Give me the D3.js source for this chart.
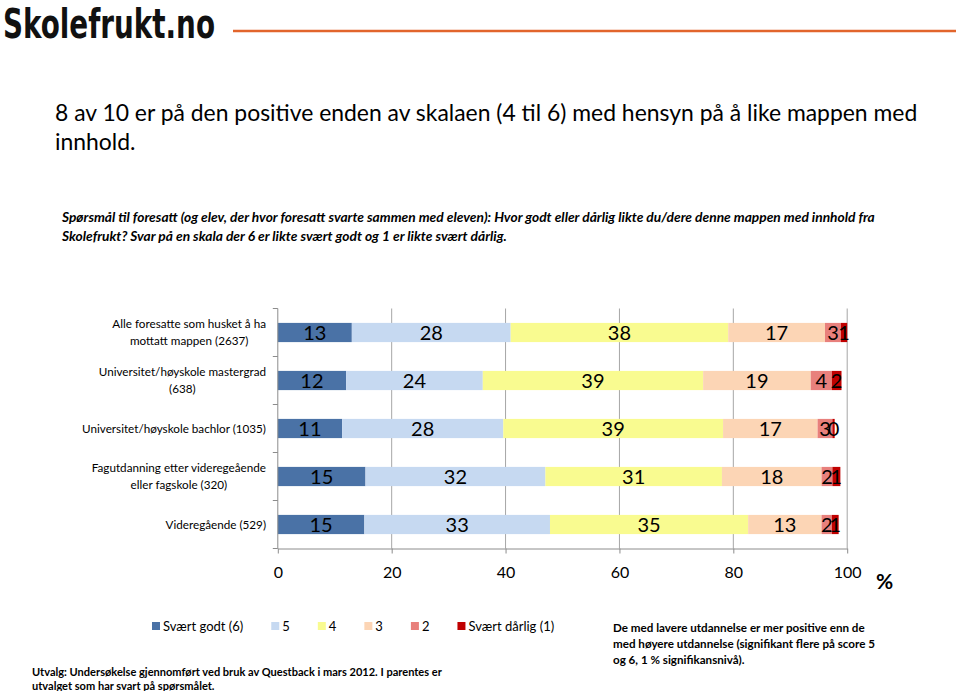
<!DOCTYPE html>
<html><head><meta charset="utf-8">
<script src="https://cdn.jsdelivr.net/npm/d3@7"></script>
<style>body{margin:0;background:#fff;} svg{display:block;}</style>
</head><body>
<script>
// ---- data ----
const categories = [
  ["Alle foresatte som husket å ha", "mottatt mappen (2637)"],
  ["Universitet/høyskole mastergrad", "(638)"],
  ["Universitet/høyskole bachlor (1035)"],
  ["Fagutdanning etter videregeående", "eller fagskole (320)"],
  ["Videregående (529)"]
];
const seriesNames = ["Svært godt (6)", "5", "4", "3", "2", "Svært dårlig (1)"];
const s6 = [13.0, 12.0, 11.3, 15.4, 15.2];
const s5 = [27.9, 24.0, 28.3, 31.6, 32.6];
const s4 = [38.2, 38.7, 38.6, 31.0, 34.8];
const s3 = [17.0, 18.9, 16.6, 17.5, 12.9];
const s2 = [2.8, 3.7, 2.6, 1.9, 1.8];
const s1 = [1.1, 1.7, 0.4, 1.4, 1.2];
const xTicks = [0, 20, 40, 60, 80, 100];
const colors = ["#4a72a6", "#c6d9f1", "#f9fb90", "#fcd5b5", "#e8807c", "#c00000"];

const W = 959, H = 691;
const svg = d3.select("body").append("svg").attr("width", W).attr("height", H);

function fit(t, target) {
  const fs = parseFloat(t.attr("font-size"));
  const w = t.node().getComputedTextLength();
  t.attr("font-size", fs * target / w);
  return fs * target / w;
}

// ---- header ----
svg.append("text").attr("x", 3).attr("y", 38)
  .attr("font-family", "DejaVu Sans Condensed").attr("font-weight", "bold")
  .attr("font-size", 40).attr("fill", "#111")
  .attr("textLength", 212).attr("lengthAdjust", "spacingAndGlyphs").text("Skolefrukt.no");
svg.append("line").attr("x1", 233).attr("x2", 956).attr("y1", 31).attr("y2", 31)
  .attr("stroke", "#e2652c").attr("stroke-width", 2.5);

const t1 = svg.append("text").attr("x", 55).attr("y", 121).attr("font-family", "Lato")
  .attr("font-size", 22).attr("fill", "#000")
  .text("8 av 10 er på den positive enden av skalaen (4 til 6) med hensyn på å like mappen med");
const tfs = fit(t1, 863);
svg.append("text").attr("x", 55).attr("y", 150).attr("font-family", "Lato")
  .attr("font-size", tfs).attr("fill", "#000").text("innhold.");

const q1 = svg.append("text").attr("x", 62).attr("y", 222).attr("font-family", "Lato")
  .attr("font-weight", "bold").attr("font-style", "italic").attr("font-size", 13)
  .text("Spørsmål til foresatt (og elev, der hvor foresatt svarte sammen med eleven): Hvor godt eller dårlig likte du/dere denne mappen med innhold fra");
const qfs = fit(q1, 813);
svg.append("text").attr("x", 62).attr("y", 241).attr("font-family", "Lato")
  .attr("font-weight", "bold").attr("font-style", "italic").attr("font-size", qfs)
  .text("Skolefrukt? Svar på en skala der 6 er likte svært godt og 1 er likte svært dårlig.");

// ---- chart ----
const x0 = 277.8, x1 = 847.2, yTop = 308.5, yBot = 548.5;
const x = d3.scaleLinear().domain([0, 100]).range([x0, x1]);
const y = d3.scaleBand().domain(d3.range(categories.length)).range([yTop, yBot]).paddingInner(0.6).paddingOuter(0.3);
const yb = d3.scaleBand().domain(d3.range(categories.length)).range([yTop, yBot]);

const rows = categories.map((c, i) => ({i, vals: [s6[i], s5[i], s4[i], s3[i], s2[i], s1[i]]}));
const stack = d3.stack().keys(d3.range(6)).value((d, k) => d.vals[k]);
const stacked = stack(rows);

// gridlines
svg.append("g").selectAll("line").data(xTicks.slice(1)).join("line")
  .attr("x1", d => x(d)).attr("x2", d => x(d)).attr("y1", yTop).attr("y2", yBot)
  .attr("stroke", "#a6a6a6").attr("stroke-width", 1);

// bars
const gs = svg.append("g").selectAll("g").data(stacked).join("g").attr("fill", (d, k) => colors[k]);
gs.selectAll("rect").data(d => d).join("rect")
  .attr("x", d => x(d[0])).attr("width", d => x(d[1]) - x(d[0]))
  .attr("y", d => y(d.data.i)).attr("height", y.bandwidth());

// data labels
gs.each(function(layer) {
  d3.select(this).selectAll("text").data(layer).join("text")
    .attr("x", d => (x(d[0]) + x(d[1])) / 2).attr("y", d => y(d.data.i) + y.bandwidth() / 2 + 7)
    .attr("text-anchor", "middle").attr("font-family", "Lato").attr("font-size", 20)
    .attr("fill", "#000").text(d => Math.round(d[1] - d[0]));
});

// axes
const xAxis = d3.axisBottom(x).tickValues(xTicks).tickSize(5).tickPadding(10).tickSizeOuter(0);
const gx = svg.append("g").attr("transform", `translate(0,${yBot})`).call(xAxis);
gx.select(".domain").attr("stroke", "#8c8c8c");
gx.selectAll(".tick line").attr("stroke", "#8c8c8c");
gx.selectAll(".tick text").attr("font-family", "Lato").attr("font-size", 16).attr("fill", "#000").attr("dy", "0.9em");

svg.append("line").attr("x1", x0).attr("x2", x0).attr("y1", yTop).attr("y2", yBot).attr("stroke", "#8c8c8c");
svg.append("g").selectAll("line").data(d3.range(categories.length + 1)).join("line")
  .attr("x1", x0 - 5).attr("x2", x0).attr("y1", d => yTop + d * yb.step()).attr("y2", d => yTop + d * yb.step())
  .attr("stroke", "#8c8c8c");

svg.append("text").attr("x", 876).attr("y", 589).attr("font-family", "Lato").attr("font-weight", "bold")
  .attr("font-size", 21).text("%");

// category labels
const probe = svg.append("text").attr("font-family", "Lato").attr("font-size", 12).text(categories[2][0]);
const cfs = fit(probe, 184);
probe.remove();
const labelRight = 266;
categories.forEach((lines, i) => {
  const g = svg.append("g");
  const cy = y(i) + y.bandwidth() / 2;
  const lh = cfs * 1.45;
  const ts = lines.map((l, j) => g.append("text").attr("font-family", "Lato").attr("font-size", cfs)
    .attr("text-anchor", "middle").attr("fill", "#000")
    .attr("y", cy + (j - (lines.length - 1) / 2) * lh + cfs * 0.36).text(l));
  const mw = d3.max(ts, t => t.node().getComputedTextLength());
  ts.forEach(t => t.attr("x", labelRight - mw / 2));
});

// legend
const lg = svg.append("g");
let lx = 152;
seriesNames.forEach((n, k) => {
  lg.append("rect").attr("x", lx).attr("y", 622).attr("width", 8).attr("height", 8).attr("fill", colors[k]);
  const t = lg.append("text").attr("x", lx + 11).attr("y", 631).attr("font-family", "Lato").attr("font-size", 13).text(n);
  lx += 11 + t.node().getComputedTextLength() + 28;
});

// notes
const n1 = svg.append("text").attr("x", 613).attr("y", 632).attr("font-family", "Lato").attr("font-weight", "bold")
  .attr("font-size", 12).text("De med lavere utdannelse er mer positive enn de");
const nfs = fit(n1, 252);
["med høyere utdannelse (signifikant flere på score 5", "og 6, 1 % signifikansnivå)."].forEach((l, j) => {
  svg.append("text").attr("x", 613).attr("y", 648 + j * 16).attr("font-family", "Lato").attr("font-weight", "bold")
    .attr("font-size", nfs).text(l);
});
const b1 = svg.append("text").attr("x", 32).attr("y", 676).attr("font-family", "Lato").attr("font-weight", "bold")
  .attr("font-size", 11).text("Utvalg: Undersøkelse gjennomført ved bruk av Questback i mars 2012. I parentes er");
const bfs = fit(b1, 410);
svg.append("text").attr("x", 32).attr("y", 690).attr("font-family", "Lato").attr("font-weight", "bold")
  .attr("font-size", bfs).text("utvalget som har svart på spørsmålet.");
</script>
</body></html>
